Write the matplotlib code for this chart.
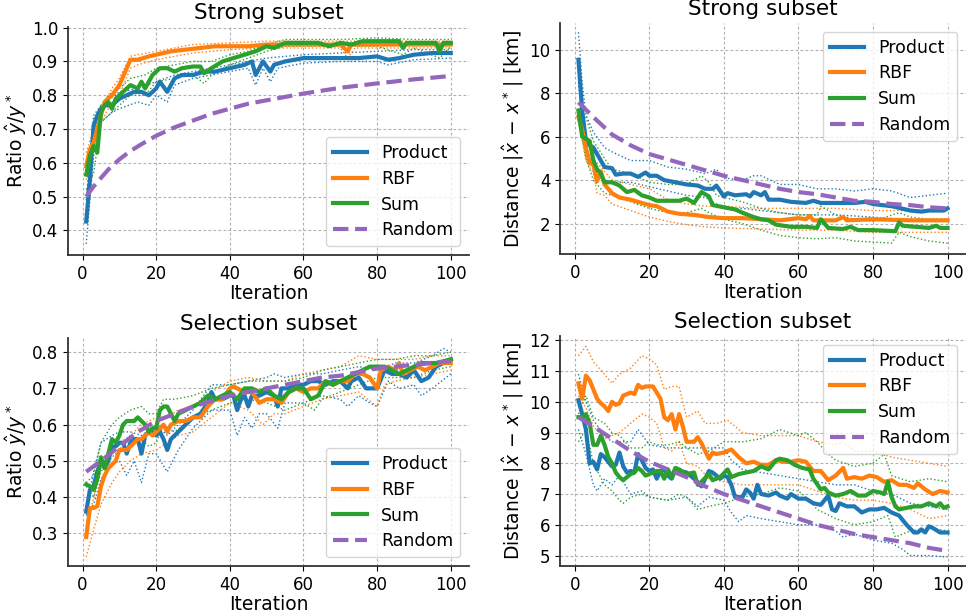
import matplotlib.pyplot as plt

# ---- top left: ratio, strong subset (iteration, value) ----
tl_product = [(1, 0.426), (2, 0.55), (3, 0.71), (4, 0.74), (5, 0.76), (6, 0.77), (7, 0.77), (8, 0.77),
              (10, 0.79), (12, 0.80), (14, 0.81), (16, 0.81), (18, 0.80), (20, 0.82), (21, 0.84), (23, 0.81),
              (25, 0.85), (27, 0.86), (30, 0.86), (33, 0.87), (36, 0.87), (40, 0.88), (44, 0.89), (46, 0.90),
              (47, 0.86), (49, 0.90), (51, 0.87), (52, 0.89), (55, 0.90), (60, 0.91), (65, 0.91), (70, 0.91),
              (75, 0.91), (80, 0.915), (83, 0.905), (86, 0.91), (90, 0.92), (95, 0.925), (100, 0.925)]
tl_rbf = [(1, 0.59), (2, 0.64), (3, 0.66), (4, 0.70), (5, 0.74), (6, 0.78), (8, 0.80), (10, 0.83), (12, 0.88),
          (13, 0.905), (15, 0.905), (18, 0.915), (20, 0.92), (24, 0.93), (28, 0.935), (32, 0.94), (36, 0.945),
          (40, 0.945), (45, 0.945), (50, 0.95), (55, 0.95), (60, 0.95), (65, 0.95), (70, 0.95), (72, 0.93),
          (73, 0.95), (80, 0.95), (86, 0.95), (90, 0.95), (95, 0.95), (100, 0.95)]
tl_sum = [(1, 0.565), (2, 0.62), (3, 0.65), (4, 0.63), (5, 0.75), (6, 0.77), (7, 0.78), (8, 0.76), (9, 0.79),
          (11, 0.81), (13, 0.83), (15, 0.82), (16, 0.84), (17, 0.82), (19, 0.86), (21, 0.88), (23, 0.88),
          (25, 0.87), (27, 0.88), (30, 0.885), (32, 0.885), (33, 0.865), (35, 0.88), (38, 0.90), (41, 0.91),
          (44, 0.92), (47, 0.93), (50, 0.945), (52, 0.94), (55, 0.955), (60, 0.955), (64, 0.955), (67, 0.945),
          (70, 0.955), (73, 0.95), (76, 0.96), (80, 0.96), (86, 0.96), (87, 0.94), (88, 0.955), (92, 0.955),
          (96, 0.955), (97, 0.93), (98, 0.955), (100, 0.955)]
tl_random = [(1, 0.50), (2, 0.515), (3, 0.53), (5, 0.555), (7, 0.58), (10, 0.61), (13, 0.635), (16, 0.655),
             (20, 0.68), (25, 0.705), (30, 0.725), (35, 0.745), (40, 0.76), (45, 0.775), (50, 0.785),
             (60, 0.805), (70, 0.822), (80, 0.835), (90, 0.847), (100, 0.857)]
tl_product_lo = [(1, 0.36), (3, 0.62), (5, 0.72), (8, 0.75), (10, 0.76), (15, 0.78), (18, 0.77), (20, 0.80),
                 (23, 0.78), (25, 0.83), (30, 0.85), (35, 0.86), (40, 0.87), (45, 0.88), (47, 0.83), (49, 0.88),
                 (51, 0.84), (53, 0.88), (60, 0.895), (70, 0.90), (80, 0.90), (83, 0.89), (90, 0.905), (100, 0.91)]
tl_product_hi = [(1, 0.49), (3, 0.74), (5, 0.77), (10, 0.81), (15, 0.82), (20, 0.84), (25, 0.86), (30, 0.87),
                 (35, 0.88), (40, 0.89), (45, 0.90), (50, 0.91), (60, 0.92), (70, 0.925), (80, 0.93), (90, 0.935),
                 (100, 0.935)]
tl_rbf_lo = [(1, 0.55), (3, 0.63), (5, 0.72), (8, 0.78), (10, 0.80), (13, 0.88), (15, 0.89), (20, 0.905),
             (25, 0.915), (30, 0.925), (40, 0.935), (50, 0.94), (60, 0.94), (70, 0.94), (72, 0.91), (74, 0.94),
             (80, 0.94), (90, 0.94), (100, 0.94)]
tl_rbf_hi = [(1, 0.63), (3, 0.70), (5, 0.76), (8, 0.82), (10, 0.85), (13, 0.915), (15, 0.92), (20, 0.93),
             (25, 0.94), (30, 0.95), (40, 0.955), (50, 0.96), (60, 0.96), (70, 0.96), (80, 0.96), (90, 0.96),
             (100, 0.96)]
tl_sum_lo = [(1, 0.52), (3, 0.57), (5, 0.72), (7, 0.74), (10, 0.77), (13, 0.80), (17, 0.80), (20, 0.84),
             (25, 0.85), (30, 0.86), (33, 0.835), (35, 0.86), (40, 0.89), (45, 0.91), (50, 0.93), (55, 0.945),
             (60, 0.945), (70, 0.945), (80, 0.945), (87, 0.92), (90, 0.94), (97, 0.91), (100, 0.945)]
tl_sum_hi = [(1, 0.60), (3, 0.68), (5, 0.77), (7, 0.80), (10, 0.82), (13, 0.85), (17, 0.86), (20, 0.88),
             (25, 0.89), (30, 0.90), (35, 0.90), (40, 0.92), (45, 0.93), (50, 0.95), (55, 0.965), (60, 0.965),
             (70, 0.965), (80, 0.97), (90, 0.965), (100, 0.965)]

# ---- top right: distance, strong subset ----
tr_product = [(1, 9.54), (2, 7.2), (3, 5.8), (4, 5.6), (5, 5.5), (6, 5.2), (7, 4.9), (8, 4.6), (10, 4.55),
              (11, 4.25), (13, 4.3), (15, 4.3), (17, 4.15), (19, 4.35), (20, 4.2), (22, 4.2), (24, 4.0),
              (27, 3.9), (30, 3.8), (33, 3.75), (35, 3.6), (37, 3.6), (38, 3.75), (40, 3.25), (41, 3.4),
              (43, 3.3), (46, 3.35), (47, 3.25), (48, 3.45), (50, 3.3), (51, 3.45), (52, 3.1), (55, 3.1),
              (58, 3.0), (62, 2.95), (64, 3.05), (66, 2.95), (70, 2.95), (75, 2.95), (78, 3.0), (80, 2.9),
              (85, 2.8), (90, 2.6), (93, 2.55), (95, 2.6), (99, 2.6), (100, 2.7)]
tr_rbf = [(1, 6.9), (2, 6.3), (3, 5.5), (4, 4.8), (5, 4.7), (6, 3.95), (7, 4.4), (8, 3.8), (10, 3.4),
          (12, 3.2), (15, 3.1), (18, 2.95), (20, 2.85), (22, 2.8), (25, 2.55), (28, 2.45), (32, 2.4), (36, 2.3),
          (40, 2.25), (45, 2.25), (50, 2.2), (55, 2.15), (60, 2.25), (62, 2.2), (63, 2.35), (64, 2.15),
          (70, 2.15), (72, 2.3), (73, 2.15), (80, 2.2), (90, 2.15), (100, 2.15)]
tr_sum = [(1, 7.2), (2, 6.0), (3, 5.9), (4, 5.8), (5, 4.9), (6, 4.5), (7, 4.3), (8, 3.9), (10, 3.9),
          (12, 3.75), (14, 3.45), (16, 3.55), (18, 3.3), (20, 3.2), (22, 3.05), (25, 3.05), (28, 3.05),
          (30, 3.15), (32, 2.95), (34, 3.45), (36, 3.25), (37, 2.85), (40, 2.75), (43, 2.65), (45, 2.5),
          (48, 2.3), (50, 2.2), (52, 2.15), (54, 1.95), (58, 1.85), (62, 1.85), (65, 1.8), (66, 2.2), (68, 1.8),
          (72, 1.75), (74, 1.85), (76, 1.7), (80, 1.7), (86, 1.65), (87, 2.05), (88, 1.9), (95, 1.8),
          (97, 1.9), (98, 1.8), (100, 1.8)]
tr_random = [(1, 7.58), (5, 6.9), (10, 6.1), (15, 5.6), (20, 5.2), (25, 4.95), (30, 4.7), (35, 4.45),
             (40, 4.2), (45, 4.0), (50, 3.8), (55, 3.6), (60, 3.45), (65, 3.35), (70, 3.2), (75, 3.05),
             (80, 3.0), (85, 2.9), (90, 2.85), (95, 2.75), (100, 2.7)]
tr_product_lo = [(1, 8.5), (2, 6.5), (3, 5.0), (5, 4.8), (8, 4.0), (10, 3.9), (15, 3.9), (20, 3.7),
                 (25, 3.5), (30, 3.3), (35, 3.2), (40, 2.7), (45, 2.7), (50, 2.6), (55, 2.5), (60, 2.4),
                 (70, 2.4), (80, 2.3), (90, 2.1), (100, 2.1)]
tr_product_hi = [(1, 10.8), (2, 8.5), (3, 7.0), (5, 6.2), (8, 5.5), (10, 5.3), (15, 4.9), (20, 4.9),
                 (25, 4.6), (30, 4.5), (35, 4.3), (38, 4.5), (40, 4.1), (45, 4.0), (48, 4.2), (50, 4.2),
                 (55, 3.8), (60, 3.8), (65, 3.6), (70, 3.6), (75, 3.5), (80, 3.6), (85, 3.5), (90, 3.2),
                 (95, 3.3), (100, 3.4)]
tr_rbf_lo = [(1, 6.7), (3, 4.9), (5, 4.3), (6, 3.4), (8, 3.3), (10, 2.9), (15, 2.6), (20, 2.3), (25, 2.1),
             (30, 1.95), (35, 1.85), (40, 1.8), (50, 1.75), (60, 1.7), (70, 1.7), (80, 1.6), (90, 1.6),
             (100, 1.6)]
tr_rbf_hi = [(1, 7.0), (3, 6.0), (5, 5.0), (8, 4.4), (10, 4.0), (15, 3.8), (20, 3.6), (25, 3.1), (30, 2.9),
             (35, 2.8), (40, 2.8), (45, 2.75), (50, 2.7), (55, 2.7), (60, 2.7), (70, 2.7), (80, 2.6),
             (90, 2.6), (100, 2.6)]
tr_sum_lo = [(1, 6.8), (3, 5.0), (5, 4.0), (8, 3.4), (10, 3.3), (15, 3.0), (20, 2.7), (25, 2.5), (30, 2.5),
             (34, 2.7), (36, 2.5), (40, 2.2), (45, 2.0), (50, 1.7), (55, 1.45), (60, 1.35), (65, 1.3),
             (70, 1.35), (75, 1.2), (80, 1.15), (85, 1.1), (87, 1.6), (90, 1.4), (95, 1.2), (100, 1.1)]
tr_sum_hi = [(1, 7.3), (3, 6.9), (5, 5.8), (8, 5.0), (10, 4.5), (15, 4.3), (20, 3.9), (25, 3.8), (30, 3.8),
             (34, 4.2), (36, 3.9), (38, 3.3), (40, 3.2), (45, 3.0), (50, 2.7), (55, 2.5), (60, 2.4), (65, 2.4),
             (66, 2.8), (70, 2.4), (75, 2.2), (80, 2.1), (87, 2.5), (90, 2.3), (95, 2.2), (100, 2.2)]

# ---- bottom left: ratio, selection subset ----
bl_product = [(1, 0.36), (2, 0.42), (3, 0.43), (4, 0.47), (5, 0.50), (6, 0.48), (7, 0.50), (8, 0.54),
              (9, 0.54), (10, 0.55), (11, 0.55), (12, 0.52), (13, 0.55), (14, 0.56), (15, 0.56), (16, 0.52),
              (17, 0.57), (18, 0.58), (19, 0.58), (20, 0.57), (21, 0.58), (22, 0.56), (23, 0.53), (24, 0.56),
              (26, 0.58), (28, 0.60), (30, 0.62), (32, 0.63), (34, 0.66), (35, 0.69), (36, 0.67), (38, 0.67),
              (40, 0.68), (41, 0.68), (42, 0.64), (43, 0.67), (44, 0.68), (45, 0.65), (46, 0.68), (48, 0.68),
              (50, 0.69), (52, 0.68), (53, 0.65), (54, 0.70), (56, 0.70), (58, 0.71), (60, 0.71), (62, 0.72),
              (64, 0.72), (66, 0.71), (68, 0.72), (70, 0.72), (72, 0.70), (73, 0.72), (75, 0.73), (77, 0.70),
              (80, 0.70), (82, 0.75), (84, 0.74), (86, 0.74), (88, 0.73), (90, 0.75), (92, 0.72), (94, 0.73),
              (96, 0.76), (98, 0.77), (100, 0.78)]
bl_rbf = [(1, 0.29), (2, 0.37), (3, 0.37), (4, 0.375), (5, 0.43), (6, 0.46), (7, 0.48), (8, 0.49), (9, 0.50),
          (10, 0.53), (11, 0.53), (12, 0.53), (13, 0.54), (14, 0.55), (15, 0.56), (16, 0.56), (17, 0.57),
          (18, 0.58), (19, 0.57), (20, 0.58), (22, 0.60), (23, 0.58), (24, 0.60), (26, 0.61), (28, 0.61),
          (30, 0.62), (32, 0.62), (34, 0.65), (36, 0.67), (38, 0.67), (40, 0.70), (41, 0.705), (42, 0.70),
          (44, 0.69), (46, 0.69), (48, 0.66), (50, 0.67), (52, 0.67), (54, 0.66), (56, 0.69), (58, 0.70),
          (60, 0.69), (62, 0.70), (64, 0.70), (66, 0.72), (68, 0.71), (70, 0.72), (72, 0.72), (74, 0.74),
          (76, 0.74), (78, 0.73), (80, 0.70), (81, 0.75), (83, 0.76), (85, 0.75), (86, 0.77), (87, 0.74),
          (89, 0.75), (91, 0.76), (93, 0.75), (95, 0.76), (97, 0.77), (100, 0.77)]
bl_sum = [(1, 0.435), (2, 0.43), (3, 0.42), (4, 0.45), (5, 0.51), (6, 0.48), (7, 0.52), (8, 0.56), (9, 0.55),
          (10, 0.57), (11, 0.60), (12, 0.61), (13, 0.61), (14, 0.61), (15, 0.62), (16, 0.61), (17, 0.60),
          (18, 0.58), (19, 0.59), (20, 0.59), (21, 0.64), (22, 0.65), (23, 0.65), (24, 0.63), (25, 0.61),
          (26, 0.63), (28, 0.64), (30, 0.65), (32, 0.66), (34, 0.68), (36, 0.67), (38, 0.68), (40, 0.69),
          (42, 0.67), (44, 0.70), (46, 0.70), (48, 0.69), (50, 0.70), (52, 0.68), (54, 0.67), (56, 0.69),
          (58, 0.70), (60, 0.70), (62, 0.67), (64, 0.68), (66, 0.72), (68, 0.71), (70, 0.72), (72, 0.73),
          (74, 0.74), (76, 0.75), (78, 0.76), (80, 0.76), (82, 0.76), (84, 0.75), (86, 0.74), (88, 0.75),
          (90, 0.76), (92, 0.77), (94, 0.77), (96, 0.77), (98, 0.775), (100, 0.78)]
bl_random = [(1, 0.47), (5, 0.50), (10, 0.54), (15, 0.58), (20, 0.61), (25, 0.63), (30, 0.65), (35, 0.665),
             (40, 0.68), (45, 0.69), (50, 0.70), (55, 0.71), (60, 0.72), (65, 0.73), (70, 0.735), (75, 0.745),
             (80, 0.755), (85, 0.76), (90, 0.765), (95, 0.77), (100, 0.775)]
bl_product_lo = [(1, 0.35), (3, 0.38), (5, 0.45), (8, 0.49), (10, 0.50), (12, 0.46), (14, 0.50), (16, 0.44),
                 (18, 0.52), (20, 0.52), (23, 0.47), (26, 0.53), (30, 0.59), (35, 0.64), (40, 0.64), (42, 0.57),
                 (44, 0.62), (46, 0.59), (48, 0.63), (50, 0.63), (53, 0.59), (55, 0.66), (60, 0.66), (65, 0.68),
                 (70, 0.67), (72, 0.65), (75, 0.68), (78, 0.66), (80, 0.65), (83, 0.72), (86, 0.70), (90, 0.71),
                 (92, 0.68), (95, 0.70), (100, 0.74)]
bl_product_hi = [(1, 0.37), (3, 0.47), (5, 0.55), (8, 0.57), (10, 0.58), (13, 0.58), (16, 0.57), (20, 0.60),
                 (23, 0.57), (26, 0.60), (30, 0.64), (35, 0.71), (40, 0.71), (45, 0.72), (50, 0.73), (52, 0.74),
                 (55, 0.73), (60, 0.74), (65, 0.74), (70, 0.75), (75, 0.76), (80, 0.75), (85, 0.77), (90, 0.77),
                 (95, 0.79), (98, 0.81), (100, 0.80)]
bl_rbf_lo = [(1, 0.235), (3, 0.31), (5, 0.38), (8, 0.44), (10, 0.47), (13, 0.50), (16, 0.52), (20, 0.53),
             (23, 0.55), (26, 0.57), (30, 0.58), (35, 0.62), (40, 0.66), (45, 0.64), (49, 0.60), (52, 0.63),
             (55, 0.63), (60, 0.65), (65, 0.67), (70, 0.68), (75, 0.69), (80, 0.65), (82, 0.71), (85, 0.72),
             (90, 0.73), (95, 0.74), (100, 0.75)]
bl_rbf_hi = [(1, 0.30), (3, 0.40), (5, 0.48), (8, 0.52), (10, 0.55), (13, 0.57), (16, 0.60), (20, 0.62),
             (23, 0.62), (26, 0.64), (30, 0.65), (35, 0.69), (40, 0.72), (45, 0.73), (50, 0.72), (55, 0.72),
             (60, 0.74), (65, 0.75), (70, 0.76), (75, 0.79), (80, 0.78), (85, 0.78), (90, 0.78), (95, 0.79),
             (100, 0.79)]
bl_sum_lo = [(1, 0.43), (3, 0.40), (5, 0.47), (8, 0.51), (10, 0.53), (13, 0.57), (16, 0.56), (18, 0.54),
             (20, 0.55), (22, 0.60), (25, 0.58), (30, 0.62), (35, 0.64), (40, 0.66), (45, 0.67), (50, 0.66),
             (55, 0.64), (60, 0.66), (63, 0.64), (65, 0.67), (70, 0.69), (75, 0.71), (80, 0.73), (85, 0.73),
             (90, 0.73), (95, 0.75), (100, 0.76)]
bl_sum_hi = [(1, 0.44), (3, 0.46), (5, 0.55), (8, 0.60), (10, 0.62), (13, 0.64), (16, 0.65), (18, 0.63),
             (20, 0.63), (22, 0.67), (25, 0.67), (30, 0.68), (35, 0.70), (40, 0.71), (45, 0.72), (50, 0.72),
             (55, 0.72), (60, 0.73), (65, 0.75), (70, 0.76), (75, 0.77), (80, 0.78), (85, 0.78), (90, 0.79),
             (95, 0.79), (100, 0.80)]

# ---- bottom right: distance, selection subset ----
br_product = [(1, 10.05), (2, 9.6), (3, 9.1), (4, 8.0), (5, 8.05), (6, 7.8), (7, 8.3), (8, 8.2), (9, 8.05),
              (10, 7.9), (11, 7.95), (12, 8.35), (13, 7.9), (14, 7.7), (15, 7.75), (16, 7.7), (17, 8.3),
              (18, 8.1), (19, 7.85), (20, 7.75), (21, 7.8), (22, 7.5), (23, 7.75), (24, 7.8), (25, 7.6),
              (26, 7.5), (27, 7.8), (28, 7.75), (30, 7.7), (32, 7.5), (34, 7.25), (36, 7.75), (37, 7.7),
              (39, 7.5), (40, 7.6), (41, 7.55), (42, 7.3), (43, 6.9), (45, 6.9), (46, 7.15), (47, 7.05),
              (48, 6.85), (49, 7.3), (50, 7.0), (52, 6.95), (54, 7.05), (55, 6.95), (57, 6.85), (58, 7.0),
              (60, 6.85), (62, 6.85), (64, 6.7), (66, 6.65), (68, 6.95), (69, 6.5), (70, 6.45), (71, 6.7),
              (73, 6.6), (75, 6.6), (77, 6.4), (79, 6.5), (81, 6.5), (83, 6.55), (85, 6.4), (87, 6.3),
              (89, 6.0), (91, 5.75), (92, 5.75), (93, 5.85), (94, 5.75), (95, 5.95), (96, 5.9), (98, 5.75),
              (100, 5.75)]
br_rbf = [(1, 10.6), (2, 10.1), (3, 10.85), (4, 10.7), (5, 10.4), (6, 10.1), (7, 9.95), (8, 9.85), (9, 9.7),
          (10, 10.0), (11, 9.9), (12, 9.95), (13, 10.2), (14, 10.25), (15, 10.3), (16, 10.25), (17, 10.55),
          (18, 10.45), (19, 10.5), (20, 10.5), (21, 10.5), (22, 10.3), (23, 10.1), (24, 9.5), (25, 9.4),
          (26, 9.6), (27, 9.1), (28, 9.6), (29, 9.2), (30, 8.7), (32, 8.7), (33, 8.85), (34, 8.65), (35, 8.4),
          (36, 8.15), (37, 8.35), (38, 8.3), (40, 8.35), (42, 8.45), (44, 8.2), (46, 8.0), (48, 8.05),
          (50, 7.95), (52, 7.95), (54, 8.1), (56, 8.05), (58, 8.05), (60, 8.1), (62, 8.05), (64, 7.75),
          (66, 7.75), (68, 7.45), (70, 7.6), (72, 7.85), (73, 7.5), (75, 7.55), (77, 7.5), (79, 7.6),
          (81, 7.55), (83, 7.4), (85, 7.45), (87, 7.3), (89, 7.3), (91, 7.2), (92, 7.35), (94, 7.15),
          (96, 7.0), (98, 7.1), (100, 7.05)]
br_sum = [(1, 9.5), (2, 9.5), (3, 9.6), (4, 9.3), (5, 8.6), (6, 8.6), (7, 8.9), (8, 8.6), (9, 8.2),
          (10, 8.0), (11, 7.7), (12, 7.55), (13, 7.45), (14, 7.55), (15, 7.65), (16, 7.7), (17, 7.85),
          (18, 7.75), (19, 7.6), (20, 7.65), (22, 7.75), (23, 7.75), (24, 7.5), (25, 7.8), (26, 7.55),
          (27, 7.85), (28, 7.8), (30, 7.65), (32, 7.7), (33, 7.3), (34, 7.4), (36, 7.65), (37, 7.45),
          (39, 7.55), (41, 7.8), (42, 7.55), (44, 7.65), (46, 7.7), (48, 7.75), (50, 7.9), (52, 7.8),
          (54, 8.1), (55, 8.15), (57, 8.1), (59, 7.95), (61, 7.85), (63, 7.8), (64, 7.5), (66, 7.15),
          (67, 7.2), (68, 7.05), (70, 6.95), (72, 7.0), (74, 7.1), (76, 6.95), (78, 6.95), (80, 7.1),
          (82, 7.05), (83, 7.0), (84, 7.4), (85, 6.9), (86, 6.6), (87, 6.5), (89, 6.55), (91, 6.6),
          (93, 6.6), (95, 6.7), (97, 6.6), (98, 6.7), (99, 6.55), (100, 6.6)]
br_random = [(1, 9.5), (5, 9.2), (10, 8.8), (15, 8.4), (20, 8.05), (25, 7.8), (30, 7.55), (35, 7.25),
             (40, 7.0), (45, 6.8), (50, 6.6), (55, 6.4), (60, 6.2), (65, 6.0), (70, 5.85), (75, 5.7),
             (80, 5.6), (85, 5.5), (90, 5.4), (95, 5.25), (100, 5.15)]
br_product_lo = [(1, 9.1), (3, 8.3), (5, 7.3), (6, 7.1), (8, 7.5), (10, 7.3), (12, 7.6), (15, 7.0), (18, 7.1),
                 (20, 6.9), (25, 6.8), (30, 6.9), (33, 6.6), (36, 6.9), (40, 6.8), (42, 6.4), (44, 6.1),
                 (46, 6.3), (50, 6.2), (55, 6.1), (60, 6.0), (65, 6.0), (68, 5.9), (70, 5.8), (72, 5.6),
                 (75, 5.7), (80, 5.5), (85, 5.4), (88, 5.2), (90, 5.0), (95, 5.0), (100, 4.95)]
br_product_hi = [(1, 10.9), (3, 10.0), (5, 9.4), (8, 8.9), (10, 8.7), (15, 8.7), (17, 9.1), (20, 8.6),
                 (25, 8.5), (30, 8.5), (35, 8.5), (40, 8.5), (42, 8.1), (45, 7.8), (50, 7.7), (55, 7.6),
                 (60, 7.5), (65, 7.4), (70, 7.3), (75, 7.3), (80, 7.1), (85, 7.0), (90, 6.7), (95, 6.6),
                 (100, 6.5)]
br_rbf_lo = [(1, 10.2), (3, 9.8), (5, 9.2), (8, 8.8), (10, 8.9), (12, 9.0), (15, 9.3), (18, 9.6), (20, 9.5),
             (22, 9.3), (24, 8.5), (26, 8.4), (28, 8.7), (30, 8.0), (33, 7.9), (36, 7.5), (40, 7.4), (45, 7.3),
             (50, 7.3), (55, 7.3), (60, 7.3), (65, 7.1), (70, 6.9), (75, 6.8), (80, 6.8), (85, 6.7), (90, 6.5),
             (95, 6.2), (100, 6.3)]
br_rbf_hi = [(1, 11.5), (3, 11.8), (5, 11.3), (8, 10.9), (10, 10.6), (12, 10.9), (15, 11.1), (18, 11.5),
             (20, 11.4), (22, 11.2), (24, 10.4), (26, 10.5), (28, 10.5), (30, 9.5), (33, 9.7), (35, 9.3),
             (38, 9.3), (41, 9.4), (45, 9.0), (50, 8.9), (55, 8.9), (60, 8.9), (65, 8.7), (70, 8.6), (72, 8.7),
             (75, 8.4), (80, 8.4), (85, 8.2), (90, 8.1), (95, 8.0), (100, 7.9)]
br_sum_lo = [(1, 8.7), (3, 9.1), (5, 8.0), (8, 7.3), (10, 7.1), (12, 6.8), (13, 6.7), (15, 6.9), (18, 7.0),
             (20, 6.9), (25, 6.8), (28, 7.0), (30, 6.9), (33, 6.5), (36, 6.6), (40, 6.7), (45, 6.9), (50, 7.0),
             (55, 7.2), (60, 7.1), (63, 6.8), (65, 6.5), (70, 6.2), (75, 6.0), (80, 6.1), (84, 6.3), (86, 5.6),
             (90, 5.8), (95, 5.9), (100, 5.8)]
br_sum_hi = [(1, 9.6), (3, 10.2), (5, 9.5), (8, 9.3), (10, 9.0), (12, 8.9), (15, 8.5), (18, 8.5), (20, 8.7),
             (22, 8.6), (25, 8.6), (28, 8.7), (30, 8.5), (33, 8.3), (36, 8.4), (40, 8.7), (45, 8.7), (50, 8.8),
             (55, 9.1), (60, 8.9), (62, 9.0), (65, 8.7), (68, 8.3), (70, 8.1), (75, 7.9), (80, 8.0), (83, 8.3),
             (85, 7.6), (90, 7.4), (95, 7.5), (100, 7.4)]

labels = ["Product", "RBF", "Sum", "Random"]
colors = ["#1f77b4", "#ff7f0e", "#2ca02c", "#9467bd"]
ratio_label = r"Ratio $\hat{y}/y^*$"
dist_label = r"Distance $|\hat{x}\,-\,x^*\,|$ [km]"


def unzip(pairs):
    return [p[0] for p in pairs], [p[1] for p in pairs]


# Function to draw one panel: dotted bands, thick means, dashed random.
def plot_panel(ax, mains, bands, title, ylabel, ylim, yticks, legend_loc):
    for (lo, hi), color in zip(bands, colors[:3]):
        for band in (lo, hi):
            x, y = unzip(band)
            ax.plot(x, y, ":", color=color, lw=1)
    for i, line in enumerate(mains):
        x, y = unzip(line)
        style = "--" if i == 3 else "-"
        ax.plot(x, y, style, color=colors[i], lw=3, label=labels[i])

    ax.set_title(title, fontsize=15.5)
    ax.set_xlabel("Iteration", fontsize=13.5, labelpad=1)
    ax.set_ylabel(ylabel, fontsize=13.5, labelpad=2)
    ax.set_ylim(ylim)
    ax.set_yticks(yticks)
    ax.set_xticks([0, 20, 40, 60, 80, 100])
    ax.tick_params(labelsize=12)
    ax.grid(True, linestyle=(0, (2.5, 2)), color="#b0b0b0", lw=0.8)
    for side in ("top", "right"):
        ax.spines[side].set_visible(False)
    for side in ("left", "bottom"):
        ax.spines[side].set_linewidth(1.3)
        ax.spines[side].set_color("#333333")
    ax.legend(loc=legend_loc, fontsize=12.5, labelspacing=0.45)


W, H = 966, 615
fig = plt.figure(figsize=(W / 100, H / 100), dpi=100)


def box(left, right, top, bottom):
    return [left / W, 1 - bottom / H, (right - left) / W, (bottom - top) / H]


ax_tl = fig.add_axes(box(68, 469, 27, 255))
ax_tr = fig.add_axes(box(560, 966, 23, 254))
ax_bl = fig.add_axes(box(68, 469, 338, 566))
ax_br = fig.add_axes(box(560, 966, 336, 566))

plot_panel(ax_tl, [tl_product, tl_rbf, tl_sum, tl_random],
           [(tl_product_lo, tl_product_hi), (tl_rbf_lo, tl_rbf_hi), (tl_sum_lo, tl_sum_hi)],
           "Strong subset", ratio_label, (0.327, 1.002), [0.4, 0.5, 0.6, 0.7, 0.8, 0.9, 1.0], "lower right")
plot_panel(ax_tr, [tr_product, tr_rbf, tr_sum, tr_random],
           [(tr_product_lo, tr_product_hi), (tr_rbf_lo, tr_rbf_hi), (tr_sum_lo, tr_sum_hi)],
           "Strong subset", dist_label, (0.6, 11.23), [2, 4, 6, 8, 10], "upper right")
plot_panel(ax_bl, [bl_product, bl_rbf, bl_sum, bl_random],
           [(bl_product_lo, bl_product_hi), (bl_rbf_lo, bl_rbf_hi), (bl_sum_lo, bl_sum_hi)],
           "Selection subset", ratio_label, (0.21, 0.839), [0.3, 0.4, 0.5, 0.6, 0.7, 0.8], "lower right")
plot_panel(ax_br, [br_product, br_rbf, br_sum, br_random],
           [(br_product_lo, br_product_hi), (br_rbf_lo, br_rbf_hi), (br_sum_lo, br_sum_hi)],
           "Selection subset", dist_label, (4.66, 12.14), [5, 6, 7, 8, 9, 10, 11, 12], "upper right")

fig.savefig("out.png", dpi=100)
